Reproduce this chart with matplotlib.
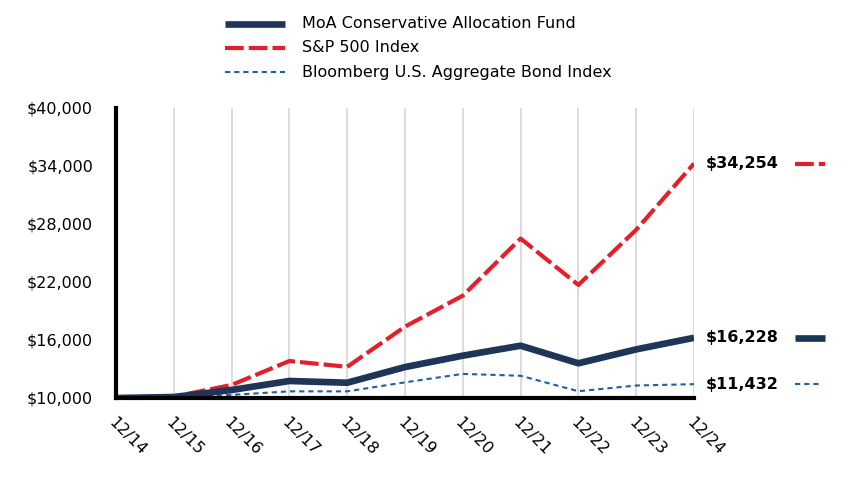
# Growth of $10,000 line chart
import matplotlib
matplotlib.use("Agg")
import matplotlib.pyplot as plt
from matplotlib.lines import Line2D

# Data
years = ["12/14", "12/15", "12/16", "12/17", "12/18", "12/19",
         "12/20", "12/21", "12/22", "12/23", "12/24"]
fund = [10000, 10100, 10830, 11760, 11580, 13200, 14380, 15410, 13590, 15030, 16228]
sp500 = [10000, 10138, 11351, 13829, 13223, 17386, 20585, 26494, 21696, 27400, 34254]
bond = [10000, 10055, 10322, 10687, 10688, 11620, 12493, 12300, 10700, 11292, 11432]
names = ["MoA Conservative Allocation Fund", "S&P 500 Index",
         "Bloomberg U.S. Aggregate Bond Index"]
yticks = [10000, 16000, 22000, 28000, 34000, 40000]

# Styles
NAVY = "#1f3558"
RED = "#e3202a"
BLUE = "#1f5fa6"
FS = 11.5
styles = [
    dict(color=NAVY, lw=4.8, ls="-", solid_capstyle="butt"),
    dict(color=RED, lw=3.0, ls=(0, (4.5, 1.2)), dash_capstyle="butt"),
    dict(color=BLUE, lw=1.5, ls=(0, (2.5, 1.9)), dash_capstyle="butt"),
]

fig = plt.figure(figsize=(8.64, 4.92), dpi=100)
W, H = 864, 492
ax = fig.add_axes([116 / W, 1 - 398 / H, (694 - 116) / W, (398 - 108) / H])

x = list(range(len(years)))
ax.plot(x, bond, zorder=3, **styles[2])
ax.plot(x, sp500, zorder=4, **styles[1])
ax.plot(x, fund, zorder=5, **styles[0])

ax.set_xlim(0, len(years) - 1)
ax.set_ylim(10000, 40000)
ax.set_yticks(yticks)
ax.set_yticklabels([f"${v:,}" for v in yticks], fontsize=FS)
ax.set_xticks(x)
ax.set_xticklabels(years, fontsize=FS, rotation=-45, ha="left", va="top",
                   rotation_mode="anchor")
ax.tick_params(axis="both", length=0)
ax.tick_params(axis="x", pad=12)
ax.tick_params(axis="y", pad=16.5)

for i in x[1:]:
    ax.axvline(i, color="#dcdcdc", lw=1.4, zorder=1)

for s in ["top", "right"]:
    ax.spines[s].set_visible(False)
for s in ["left", "bottom"]:
    ax.spines[s].set_linewidth(3.0)
    ax.spines[s].set_color("black")
    ax.spines[s].set_zorder(6)

# End labels with short line samples
ends = [fund[-1], sp500[-1], bond[-1]]
for val, st, seg in zip(ends, styles, [30, 30, 26]):
    ax.annotate(f"${val:,}", xy=(x[-1], val), xytext=(12, 0),
                textcoords="offset pixels", fontsize=FS, fontweight="bold",
                ha="left", va="center", annotation_clip=False)
    yf = ax.transData.transform((0, val))[1] / H
    fig.add_artist(Line2D([795 / W, (795 + seg) / W], [yf, yf], **st))

# Legend drawn at top
for i, (name, st) in enumerate(zip(names, styles)):
    yf = 1 - (24 + 24 * i) / H
    fig.add_artist(Line2D([225 / W, 285 / W], [yf, yf], **st))
    fig.text(302 / W, yf, name, fontsize=FS, ha="left", va="center")

fig.savefig("out.png", dpi=100)
